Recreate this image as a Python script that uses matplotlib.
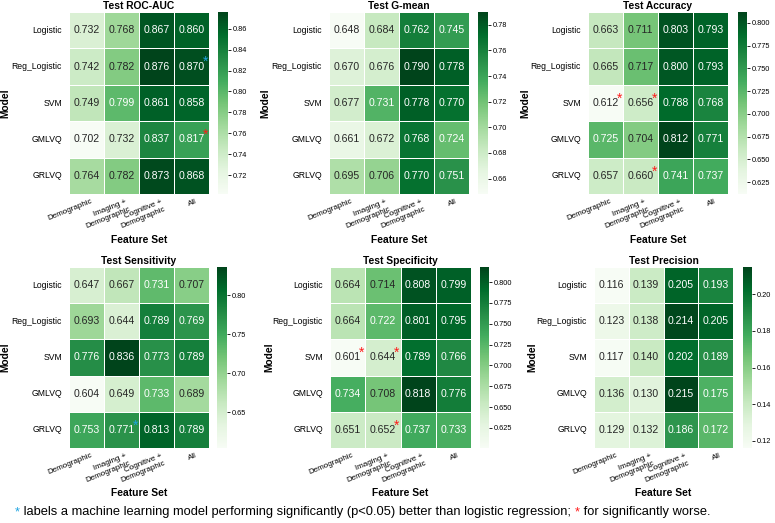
import numpy as np
import matplotlib
matplotlib.use("Agg")
import matplotlib.pyplot as plt
import matplotlib.transforms as mtransforms
import seaborn as sns

plt.rcParams['font.family'] = ['Liberation Sans', 'DejaVu Sans']

models = ["Logistic", "Reg_Logistic", "SVM", "GMLVQ", "GRLVQ"]
feature_sets = ["Demographic", "Imaging +\nDemographic", "Cognitive +\nDemographic", "All"]

roc_auc = [[0.732, 0.768, 0.867, 0.860],
           [0.742, 0.782, 0.876, 0.870],
           [0.749, 0.799, 0.861, 0.858],
           [0.702, 0.732, 0.837, 0.817],
           [0.764, 0.782, 0.873, 0.868]]
g_mean = [[0.648, 0.684, 0.762, 0.745],
          [0.670, 0.676, 0.790, 0.778],
          [0.677, 0.731, 0.778, 0.770],
          [0.661, 0.672, 0.768, 0.724],
          [0.695, 0.706, 0.770, 0.751]]
accuracy = [[0.663, 0.711, 0.803, 0.793],
            [0.665, 0.717, 0.800, 0.793],
            [0.612, 0.656, 0.788, 0.768],
            [0.725, 0.704, 0.812, 0.771],
            [0.657, 0.660, 0.741, 0.737]]
sensitivity = [[0.647, 0.667, 0.731, 0.707],
               [0.693, 0.644, 0.789, 0.769],
               [0.776, 0.836, 0.773, 0.789],
               [0.604, 0.649, 0.733, 0.689],
               [0.753, 0.771, 0.813, 0.789]]
specificity = [[0.664, 0.714, 0.808, 0.799],
               [0.664, 0.722, 0.801, 0.795],
               [0.601, 0.644, 0.789, 0.766],
               [0.734, 0.708, 0.818, 0.776],
               [0.651, 0.652, 0.737, 0.733]]
precision = [[0.116, 0.139, 0.205, 0.193],
             [0.123, 0.138, 0.214, 0.205],
             [0.117, 0.140, 0.202, 0.189],
             [0.136, 0.130, 0.215, 0.175],
             [0.129, 0.132, 0.186, 0.172]]

titles = ["Test ROC-AUC", "Test G-mean", "Test Accuracy",
          "Test Sensitivity", "Test Specificity", "Test Precision"]
metrics = [roc_auc, g_mean, accuracy, sensitivity, specificity, precision]

# significance marks: (row, col, 'better'/'worse')
sig_marks = [
    [(1, 3, 'better'), (3, 3, 'worse')],
    [],
    [(2, 0, 'worse'), (2, 1, 'worse'), (4, 1, 'worse')],
    [(4, 1, 'better')],
    [(2, 0, 'worse'), (2, 1, 'worse'), (4, 1, 'worse')],
    [],
]
mark_colors = {'better': '#1ea3e0', 'worse': '#ff1a1a'}

W, H = 775, 523
fig = plt.figure(figsize=(W / 100, H / 100), dpi=100)

# pixel boxes: heatmap (x0, x1, y0, y1), colorbar (x0, x1), ylabel anchor x, xlabel top y
boxes = [
    ((69, 209, 12, 194), (218, 228), 10.5, 235),
    ((329, 469, 12, 194), (478, 488), 270, 235),
    ((588, 728, 12, 194), (738, 747), 530, 235),
    ((69, 209, 267, 448), (217, 227), 10.5, 488),
    ((330, 471, 267, 448), (480, 489), 274, 488),
    ((594, 733, 267, 448), (743, 752), 537, 488),
]

def px_rect(x0, x1, y0, y1):
    return [x0 / W, 1 - y1 / H, (x1 - x0) / W, (y1 - y0) / H]

shift = mtransforms.ScaledTranslation(4 / 100, 0, fig.dpi_scale_trans)

for i, (data, title) in enumerate(zip(metrics, titles)):
    (hx0, hx1, hy0, hy1), (cx0, cx1), ylx, xly = boxes[i]
    ax = fig.add_axes(px_rect(hx0, hx1, hy0, hy1))
    cax = fig.add_axes(px_rect(cx0, cx1, hy0, hy1))
    arr = np.array(data)
    sns.heatmap(arr, ax=ax, cbar_ax=cax, cmap="Greens", annot=True, fmt=".3f",
                annot_kws={"fontsize": 7.6}, linewidths=0.4, linecolor='white',
                xticklabels=feature_sets, yticklabels=models)
    ax.set_title(title, fontsize=7.4, fontweight='bold', pad=2)
    ax.set_xlabel("Feature Set", fontsize=7.4, fontweight='bold')
    ax.xaxis.set_label_coords(0.5, (hy1 - xly) / (hy1 - hy0))
    ax.set_ylabel("Model", fontsize=7.4, fontweight='bold')
    ax.yaxis.set_label_coords((ylx - hx0) / (hx1 - hx0), 0.5)
    ax.tick_params(axis='y', length=0, labelsize=6.2, pad=5)
    ax.tick_params(axis='x', length=0, labelsize=5.8, pad=3)
    for lab in ax.get_xticklabels():
        lab.set_rotation(22)
        lab.set_ha('right')
        lab.set_rotation_mode('anchor')
        lab.set_transform(lab.get_transform() + shift)
    plt.setp(ax.get_yticklabels(), rotation=0)
    cax.tick_params(labelsize=5.3, length=1.8, width=0.6, pad=1.5)
    for (r, c, kind) in sig_marks[i]:
        ax.text(c + 0.9, r + 0.38, "*", color=mark_colors[kind], fontsize=10,
                ha='center', va='center')

# footnote
y_fn = 1 - 512 / H
fig.canvas.draw()
renderer = fig.canvas.get_renderer()
pieces = [("*", mark_colors['better']),
          (" labels a machine learning model performing significantly (p<0.05) better than logistic regression; ", 'black'),
          ("*", mark_colors['worse']),
          (" for significantly worse.", 'black')]
x = 15 / W
for txt, col in pieces:
    t = fig.text(x, y_fn, txt, color=col, fontsize=9.3, ha='left', va='center')
    bb = t.get_window_extent(renderer=renderer)
    x += bb.width / W

fig.savefig("out.png", dpi=100)
